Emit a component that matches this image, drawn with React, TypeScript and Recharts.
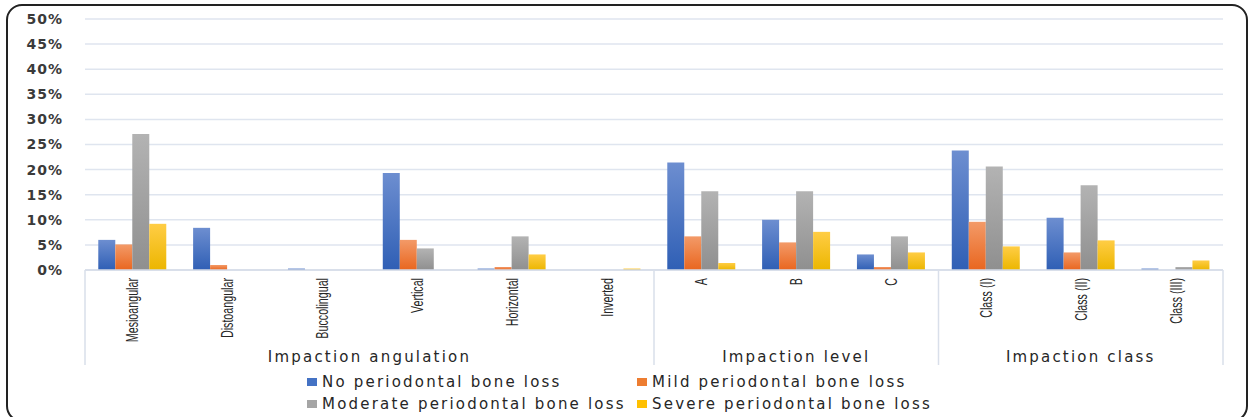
import { BarChart, Bar, XAxis, YAxis, CartesianGrid } from 'recharts';

const categories = [
  'Mesioangular', 'Distoangular', 'Buccolingual', 'Vertical', 'Horizontal', 'Inverted',
  'A', 'B', 'C',
  'Class (I)', 'Class (II)', 'Class (III)',
];
const groups = [
  { label: 'Impaction angulation', size: 6 },
  { label: 'Impaction level', size: 3 },
  { label: 'Impaction class', size: 3 },
];

const noLoss = [6.0, 8.4, 0.3, 19.3, 0.3, 0, 21.4, 10.0, 3.1, 23.8, 10.4, 0.3];
const mildLoss = [5.1, 1.0, 0, 6.0, 0.6, 0, 6.7, 5.5, 0.6, 9.6, 3.5, 0];
const moderateLoss = [27.1, 0, 0, 4.3, 6.7, 0, 15.7, 15.7, 6.7, 20.6, 16.9, 0.6];
const severeLoss = [9.2, 0, 0, 0, 3.1, 0.3, 1.4, 7.6, 3.5, 4.7, 5.9, 1.9];

const yTicks = [0, 5, 10, 15, 20, 25, 30, 35, 40, 45, 50];

const series = [
  { key: 'none', name: 'No periodontal bone loss', values: noLoss, top: '#6d8ed0', bottom: '#2f5fb5', swatch: '#4472c4' },
  { key: 'mild', name: 'Mild periodontal bone loss', values: mildLoss, top: '#f39a68', bottom: '#e9661f', swatch: '#ed7d31' },
  { key: 'moderate', name: 'Moderate periodontal bone loss', values: moderateLoss, top: '#b3b3b3', bottom: '#8f8f8f', swatch: '#a5a5a5' },
  { key: 'severe', name: 'Severe periodontal bone loss', values: severeLoss, top: '#ffcd45', bottom: '#ecb600', swatch: '#ffc000' },
];

const data = categories.map((name, i) => {
  const row: Record<string, string | number> = { name };
  series.forEach((s) => {
    row[s.key] = s.values[i];
  });
  return row;
});

const W = 1249;
const H = 417;
const PLOT_LEFT = 85;
const PLOT_RIGHT = 1223;
const PLOT_TOP = 19;
const AXIS_Y = 270;
const BAND = (PLOT_RIGHT - PLOT_LEFT) / categories.length;

const wideFont = "'DejaVu Sans', Verdana, sans-serif";
const tickFont = "'Liberation Sans', Arial, sans-serif";

// category ticks, plus the group separators and group names under them
const CategoryTick = (props: any) => {
  const { x, payload } = props;
  const index = payload.index;
  let start = 0;
  const parts: any[] = [];
  groups.forEach((g, gi) => {
    const end = start + g.size - 1;
    if (index === start) {
      const lx = x - BAND / 2;
      parts.push(<line key={`s${gi}`} x1={lx} x2={lx} y1={AXIS_Y} y2={365} stroke="#d9dfea" strokeWidth={1.5} />);
      const cx = x + ((start + end) / 2 - index) * BAND;
      parts.push(
        <text key={`g${gi}`} x={cx} y={357} textAnchor="middle" dominantBaseline="central"
          fontFamily={wideFont} fontSize={15} letterSpacing={2.2} fill="#262626">
          {g.label}
        </text>
      );
    }
    if (gi === groups.length - 1 && index === end) {
      const rx = x + BAND / 2;
      parts.push(<line key="send" x1={rx} x2={rx} y1={AXIS_Y} y2={365} stroke="#d9dfea" strokeWidth={1.5} />);
    }
    start += g.size;
  });
  return (
    <g>
      {parts}
      <text transform={`translate(${x},${AXIS_Y + 8}) rotate(-90) scale(0.63,1)`} textAnchor="end" dominantBaseline="central"
        fontFamily={tickFont} fontSize={17} fill="#262626">
        {payload.value}
      </text>
    </g>
  );
};

export default function App() {
  return (
    <div style={{ position: 'fixed', left: 0, top: 0, width: W, height: H, background: '#fff', overflow: 'hidden' }}>
      <div style={{ position: 'absolute', left: 6, top: 4, width: 1242, height: 418, border: '2px solid #222', borderRadius: 16, boxSizing: 'border-box' }} />
      <div style={{ position: 'absolute', left: 0, top: 0 }}>
        <BarChart width={W} height={H} data={data}
          margin={{ top: PLOT_TOP, right: W - PLOT_RIGHT, left: 0, bottom: H - AXIS_Y - 100 }}
          barCategoryGap="14%" barGap={0}>
          <defs>
            {series.map((s) => (
              <linearGradient key={s.key} id={`grad-${s.key}`} x1="0" y1="0" x2="0" y2="1">
                <stop offset="0%" stopColor={s.top} />
                <stop offset="100%" stopColor={s.bottom} />
              </linearGradient>
            ))}
          </defs>
          <CartesianGrid vertical={false} stroke="#dfe5ef" strokeWidth={1.5} />
          <XAxis dataKey="name" height={100} interval={0} tickLine={false}
            axisLine={{ stroke: '#d4dbe7', strokeWidth: 1.5 }} tick={<CategoryTick />} />
          <YAxis width={PLOT_LEFT} domain={[0, 50]} ticks={yTicks} interval={0} tickLine={false} axisLine={false}
            tickFormatter={(v: number) => `${v}%`} tickMargin={16}
            tick={{ fontFamily: wideFont, fontSize: 14, fontWeight: 'bold', fill: '#3a3a3a', letterSpacing: 1 }} />
          {series.map((s) => (
            <Bar key={s.key} dataKey={s.key} name={s.name} fill={`url(#grad-${s.key})`} isAnimationActive={false} />
          ))}
        </BarChart>
      </div>
      <div style={{ position: 'absolute', left: 307, top: 371, width: 660, display: 'flex', flexWrap: 'wrap',
        fontFamily: wideFont, fontSize: 15, letterSpacing: 2.2, color: '#262626' }}>
        {series.map((s) => (
          <div key={s.key} style={{ width: 330, height: 22, display: 'flex', alignItems: 'center' }}>
            <span style={{ display: 'inline-block', width: 10, height: 8, background: s.swatch, marginRight: 5 }} />
            <span>{s.name}</span>
          </div>
        ))}
      </div>
    </div>
  );
}
